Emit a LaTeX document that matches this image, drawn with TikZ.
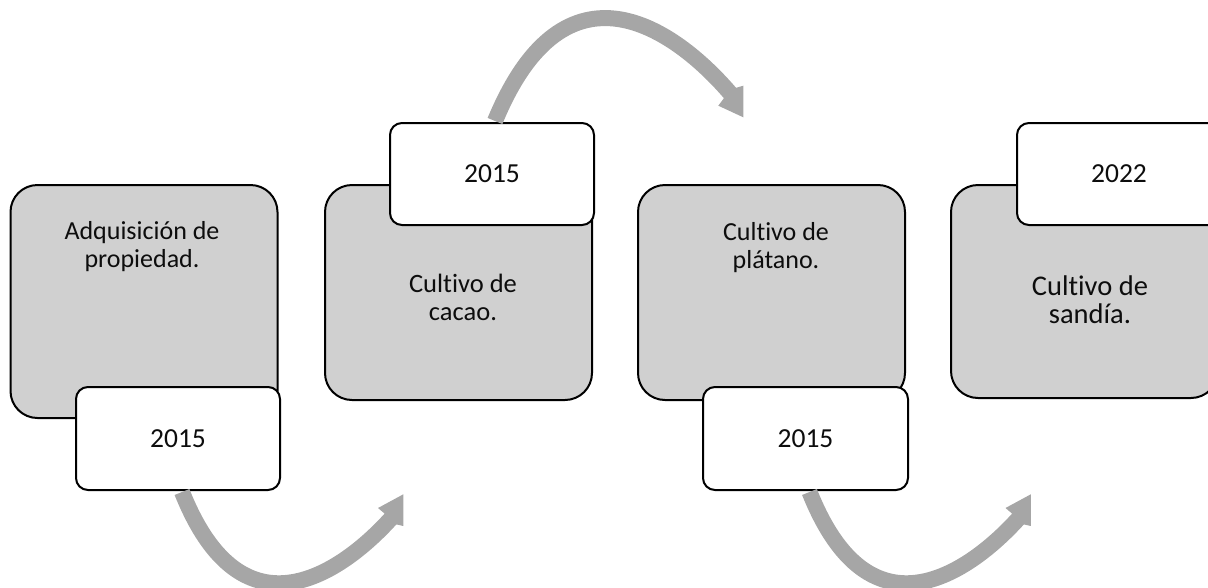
\documentclass[tikz,border=0pt]{standalone}
\usepackage{fontspec}
\setmainfont{Carlito}[Ligatures=NoCommon]
\definecolor{boxgray}{HTML}{D0D0D0}
\definecolor{arrowgray}{HTML}{A6A6A6}
\definecolor{ink}{HTML}{0D0D0D}

\begin{document}
\begin{tikzpicture}[x=1pt ,y=-1pt ,
phase/.style ={rectangle ,draw ,line width=2pt ,rounded corners=27pt ,
fill=boxgray ,minimum width=267pt ,minimum height=215pt ,inner sep=0pt},
year/.style ={rectangle ,draw ,line width=2pt ,rounded corners=12pt ,
fill=white ,text=ink ,minimum width=204pt ,minimum height=102pt ,
font=\fontsize{27.5}{33}\selectfont},
phasetext/.style ={text=ink ,align=center ,anchor=base ,inner sep=0pt},
flow/.style ={draw=arrowgray ,line width=16pt ,shorten >=-1pt},
flowhead/.style ={fill=arrowgray}
]
\useasboundingbox (0,0) rectangle (1208,587);
\clip (0,0) rectangle (1208,587);
% phases
\node[phase ,minimum height=233pt] (g1) at (144,301.5) {};
\node[phase] (g2) at (458.5,292.5) {};
\node[phase] (g3) at (771.5,292.5) {};
\node[phase ,minimum height=213pt] (g4) at (1084.5,291.5) {};
\node[phasetext ,font=\fontsize{26}{27.5}\selectfont] (t1) at (142,267) {Adquisición de\\propiedad.};
\node[phasetext ,font=\fontsize{26.5}{28}\selectfont] (t2) at (463,320) {Cultivo de\\cacao.};
\node[phasetext ,font=\fontsize{26}{28}\selectfont] (t3) at (776,268) {Cultivo de\\plátano.};
\node[phasetext ,font=\fontsize{28.5}{28}\selectfont] (t4) at (1090,323) {Cultivo de\\sandía.};
% years
\node[year ,minimum height=103pt] (w1) at (178,438.5) {2015};
\node[year] (w2) at (492,174) {2015};
\node[year ,minimum width=205pt ,minimum height=103pt] (w3) at (805.5,438.5) {2015};
\node[year] (w4) at (1119,174) {2022};
% arrows
\draw[flow] ([shift={(4,1)}]w1.south) .. controls +(61,153) and +(-47,52) .. +(208.5,27) coordinate (h1);
\fill[flowhead] ([shift={(-5.9,-5.4)}]h1) -- ([shift={(-12.5,-11)}]h1) -- ([shift={(12.8,-24.7)}]h1)
  -- ([shift={(12.8,7)}]h1) -- ([shift={(5.9,5.4)}]h1) -- cycle;
\draw[flow] ([shift={(3,-1)}]w2.north) .. controls +(70.3,-170.2) and +(-55.3,-64.6) .. +(235,-28) coordinate (h2);
\fill[flowhead] ([shift={(-6.1,5.2)}]h2) -- ([shift={(-11.7,12.7)}]h2) -- ([shift={(13.3,24.3)}]h2)
  -- ([shift={(13.3,-7.3)}]h2) -- ([shift={(6.1,-5.2)}]h2) -- cycle;
\draw[flow] ([shift={(4,1)}]w3.south) .. controls +(61,153) and +(-47,52) .. +(208.5,27) coordinate (h3);
\fill[flowhead] ([shift={(-5.9,-5.4)}]h3) -- ([shift={(-12.5,-11)}]h3) -- ([shift={(12.8,-24.7)}]h3)
  -- ([shift={(12.8,7)}]h3) -- ([shift={(5.9,5.4)}]h3) -- cycle;
\end{tikzpicture}
\end{document}
